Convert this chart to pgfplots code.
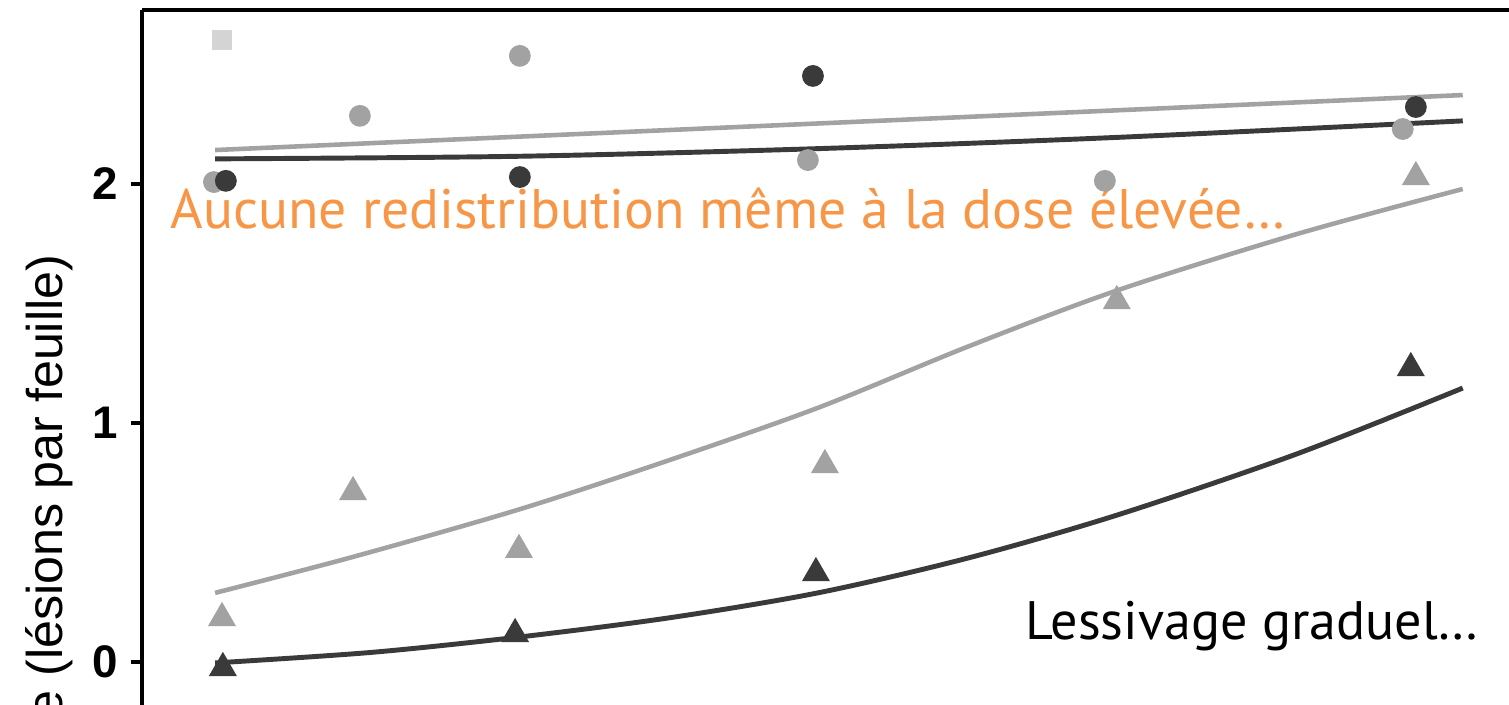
\documentclass[border=0pt]{standalone}
\usepackage{fontspec}
\setmainfont{Liberation Sans}
\newfontfamily\annot{PT Sans}
\usepackage{pgfplots}
\pgfplotsset{compat=1.18}
\usepackage{pgfplotstable}

\definecolor{darkg}{RGB}{58,58,58}
\definecolor{lightg}{RGB}{162,162,162}
\definecolor{sqg}{RGB}{212,212,212}
\definecolor{orangetxt}{RGB}{247,150,70}

% circles
\pgfplotstableread{
x y
0.013 2.013
0.998 2.029
1.98 2.452
4.0 2.322
}\darkcirc
\pgfplotstableread{
x y
-0.027 2.008
0.462 2.285
0.998 2.536
1.963 2.100
2.958 2.013
3.956 2.230
}\lightcirc
% triangles
\pgfplotstableread{
x y
0.0 0.184
0.439 0.711
0.995 0.469
2.02 0.824
2.998 1.510
4.0 2.029
}\lighttri
\pgfplotstableread{
x y
0.003 -0.025
0.982 0.117
1.99 0.372
3.983 1.230
}\darktri
% fitted curves
\pgfplotstableread{
x y
-0.023 2.142
4.157 2.372
}\lightflat
\pgfplotstableread{
x y
-0.023 2.105
1.0 2.116
2.0 2.148
3.0 2.195
4.157 2.264
}\darkflat
\pgfplotstableread{
x y
-0.023 0.289
0.44 0.44
1.0 0.64
1.5 0.845
2.0 1.065
2.5 1.32
3.0 1.555
3.6 1.79
4.157 1.979
}\lightcurve
\pgfplotstableread{
x y
-0.023 -0.004
0.5 0.04
1.0 0.105
1.5 0.185
2.0 0.29
2.5 0.435
3.0 0.615
3.6 0.87
4.157 1.146
}\darkcurve

\begin{document}
\begin{tikzpicture}
\begin{scope}
\clip (0,0) rectangle (15.09,7.05);
\begin{axis}[
    at={(1.42cm,0cm)}, anchor=south west,
    scale only axis,
    width=13.67cm, height=6.95cm,
    xmin=-0.268, xmax=4.312,
    ymin=-0.180, ymax=2.728,
    axis x line*=top,
    axis y line*=left,
    axis line style={line width=1.1pt, black, -},
    xtick=\empty,
    ytick={0,1,2},
    tick align=outside,
    major tick length=0.11cm,
    tick style={line width=1pt, black},
    /pgf/number format/assume math mode=true,
    yticklabel style={font=\fontsize{13}{15}\selectfont\bfseries, inner sep=0pt, xshift=-0.12cm},
    clip=false,
]
\addplot[lightg, line width=1.3pt] table {\lightflat};
\addplot[darkg, line width=1.4pt, smooth] table {\darkflat};
\addplot[lightg, line width=1.3pt, smooth] table {\lightcurve};
\addplot[darkg, line width=1.4pt, smooth] table {\darkcurve};
\addplot[sqg, only marks, mark=square*, mark size=2.6pt] coordinates {(0,2.603)};
\addplot[lightg, only marks, mark=*, mark size=2.9pt] table {\lightcirc};
\addplot[darkg, only marks, mark=*, mark size=2.9pt] table {\darkcirc};
\addplot[lightg, only marks, mark=triangle*, mark size=4.2pt] table {\lighttri};
\addplot[darkg, only marks, mark=triangle*, mark size=4.2pt] table {\darktri};

\node[anchor=base west, inner sep=0pt, text=orangetxt, font=\annot\fontsize{15.85}{19}\selectfont]
  at (axis cs:-0.174,1.812) {Aucune redistribution même à la dose élevée…};
\node[anchor=base east, inner sep=0pt, text=black, font=\annot\fontsize{15.4}{19}\selectfont]
  at (axis cs:4.214,0.092) {Lessivage graduel…};
\node[anchor=base east, inner sep=0pt, rotate=90, font=\fontsize{14.3}{17}\selectfont]
  at (axis cs:-0.536,1.707) {Incidence (lésions par feuille)};
\end{axis}
\end{scope}
\pgfresetboundingbox
\useasboundingbox (0,0) rectangle (15.09,7.05);
\end{tikzpicture}
\end{document}
